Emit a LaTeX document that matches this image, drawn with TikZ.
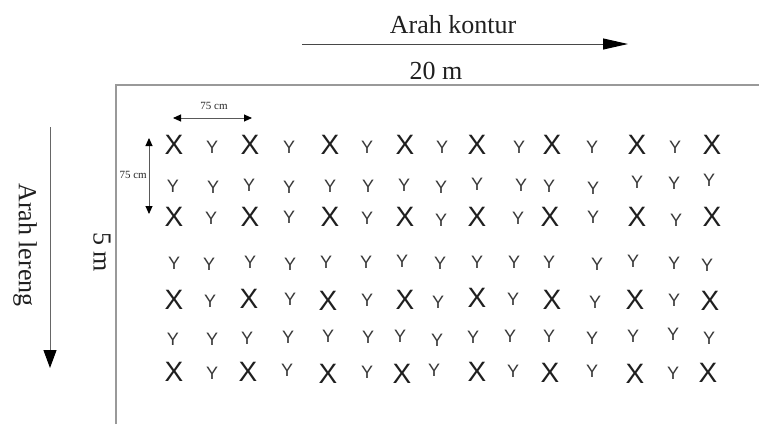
\documentclass[tikz,border=0pt]{standalone}
\usepackage{fontspec}
\setmainfont{Liberation Serif}
\newfontfamily\plantfont{Liberation Sans}
\usetikzlibrary{arrows.meta}
\begin{document}
\begin{tikzpicture}[x=1pt,y=-1pt,
  gX/.style={font=\plantfont\fontsize{28}{28}\selectfont, text=black!88, inner sep=0pt},
  gY/.style={font=\plantfont\fontsize{18}{18}\selectfont, text=black!78, inner sep=0pt},
  biglabel/.style={font=\fontsize{26}{26}\selectfont, text=black!88, inner sep=0pt},
  tinylabel/.style={font=\fontsize{11}{11}\selectfont, text=black!85, inner sep=0pt},
  border/.style={draw=black!40, line width=1.4pt},
  longarrow/.style={draw=black!72, line width=1pt,
    -{Triangle[length=25pt,width=11pt,fill=black,color=black]}},
  downarrow/.style={draw=black!60, line width=1pt,
    -{Triangle[length=18pt,width=13pt,fill=black,color=black]}},
  spacing/.style={draw=black!65, line width=0.9pt,
    {Triangle[length=8pt,width=7pt,fill=black,color=black]}-{Triangle[length=8pt,width=7pt,fill=black,color=black]}},
]
\useasboundingbox (0,0) rectangle (759,424);

% plot border (top and left edges)
\coordinate (bl) at (116,424);
\coordinate (tl) at (116,85);
\coordinate (tr) at (759,85);
\draw[border] (bl) -- (tl) -- (tr);

% contour direction
\coordinate (k1) at (302,44);
\coordinate (k2) at (628,44);
\draw[longarrow] (k1) -- (k2);
\node[biglabel] (kontur) at (453,25) {Arah kontur};
\node[biglabel] (lebar) at (436,71) {20 m};

% slope direction
\coordinate (l1) at (50,127);
\coordinate (l2) at (50,368);
\draw[downarrow] (l1) -- (l2);
\node[biglabel, rotate=-90] (lereng) at (25,245) {Arah lereng};
\node[biglabel, rotate=-90] (panjang) at (102,252) {5 m};

% planting distances
\coordinate (h1) at (173,118);
\coordinate (h2) at (252,118);
\draw[spacing] (h1) -- (h2);
\node[tinylabel] (jh) at (214,106) {75 cm};
\coordinate (v1) at (149,138);
\coordinate (v2) at (149,214);
\draw[spacing] (v1) -- (v2);
\node[tinylabel, anchor=east] (jv) at (147,175) {75 cm};

% row 1
\foreach [count=\i] \x/\y/\t in {174/145/X,212/147/Y,250/145/X,289/147/Y,330/145/X,367/147/Y,405/145/X,442/147/Y,477/145/X,519/147/Y,552/145/X,592/147/Y,637/145/X,675/147/Y,712/145/X}
  \node[g\t] (ra\i) at (\x,\y) {\t};
% row 2
\foreach [count=\i] \x/\y in {173/186,213/187,249/185,289/187,330/186,368/186,404/185,441/187,477/184,521/185,549/186,593/188,637/182,674/183,709/180}
  \node[gY] (rb\i) at (\x,\y) {Y};
% row 3
\foreach [count=\i] \x/\y/\t in {174/217/X,211/218/Y,250/217/X,289/217/Y,330/217/X,367/218/Y,405/217/X,441/220/Y,477/217/X,518/218/Y,550/217/X,593/217/Y,637/217/X,676/220/Y,712/217/X}
  \node[g\t] (rc\i) at (\x,\y) {\t};
% row 4
\foreach [count=\i] \x/\y in {174/263,209/264,250/262,290/264,326/262,366/262,402/261,440/263,477/262,514/262,549/262,597/264,633/261,674/263,707/265}
  \node[gY] (rd\i) at (\x,\y) {Y};
% row 5
\foreach [count=\i] \x/\y/\t in {174/300/X,210/301/Y,249/299/X,290/299/Y,328/301/X,367/300/Y,405/300/X,438/302/Y,477/298/X,513/299/Y,552/300/X,595/302/Y,635/300/X,674/300/Y,710/301/X}
  \node[g\t] (re\i) at (\x,\y) {\t};
% row 6
\foreach [count=\i] \x/\y in {173/339,212/339,247/338,288/337,328/336,368/337,400/336,437/340,473/337,510/336,549/336,592/338,633/336,673/334,709/338}
  \node[gY] (rf\i) at (\x,\y) {Y};
% row 7
\foreach [count=\i] \x/\y/\t in {174/372/X,212/373/Y,248/372/X,287/370/Y,328/374/X,367/372/Y,402/374/X,434/370/Y,477/372/X,513/371/Y,550/373/X,592/371/Y,635/374/X,673/373/Y,708/373/X}
  \node[g\t] (rg\i) at (\x,\y) {\t};
\end{tikzpicture}
\end{document}
